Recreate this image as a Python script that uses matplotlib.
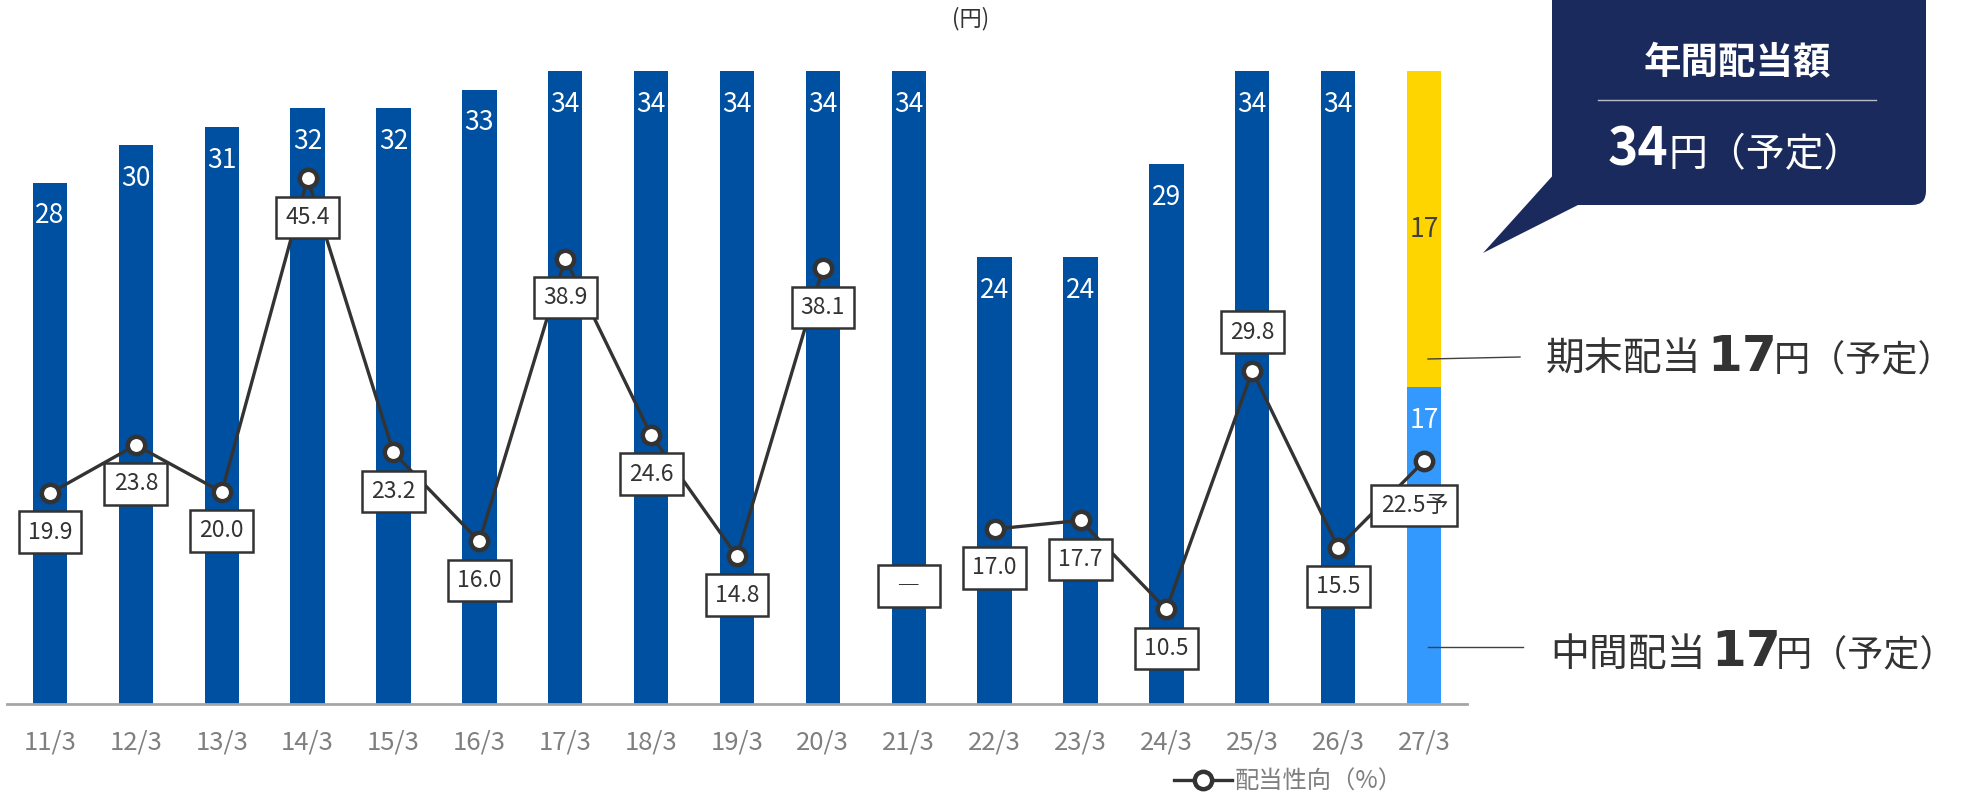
import matplotlib
matplotlib.use("Agg")
import matplotlib.pyplot as plt
import numpy as np
from matplotlib.patches import FancyBboxPatch, Polygon

plt.rcParams['font.family'] = ['Noto Sans CJK JP', 'DejaVu Sans']

# data
years = ["11/3", "12/3", "13/3", "14/3", "15/3", "16/3", "17/3", "18/3", "19/3",
         "20/3", "21/3", "22/3", "23/3", "24/3", "25/3", "26/3", "27/3"]
annual_dividend = [28, 30, 31, 32, 32, 33, 34, 34, 34, 34, 34, 24, 24, 29, 34, 34]
interim_plan = 17
year_end_plan = 17
payout_ratio = [19.9, 23.8, 20.0, 45.4, 23.2, 16.0, 38.9, 24.6, 14.8, 38.1, None,
                17.0, 17.7, 10.5, 29.8, 15.5, 22.5]

W, H = 1962, 796
navy = '#1b2a5c'
blue = '#0050a2'
light_blue = '#3399ff'
yellow = '#ffd500'
dark = '#333333'
grey = '#7f7f7f'

fig = plt.figure(figsize=(W / 100, H / 100), dpi=100)

def fx(px):
    return px / W

def fy(py):
    return 1 - py / H

ax = fig.add_axes([fx(7), fy(704), fx(1467) - fx(7), fy(30) - fy(704)])
ax2 = ax.twinx()

x = np.arange(len(years))
bw = 0.4

# past dividends
ax.bar(x[:-1], annual_dividend, width=bw, color=blue, zorder=1)
for i, v in enumerate(annual_dividend):
    ax.annotate(str(v), (i, v), xytext=(0, -24), textcoords='offset points',
                ha='center', va='center', color='white', fontsize=19)

# forecast: interim + year-end
last = x[-1]
ax.bar(last, interim_plan, width=bw, color=light_blue, zorder=1)
ax.bar(last, year_end_plan, width=bw, bottom=interim_plan, color=yellow, zorder=1)
ax.annotate(str(interim_plan), (last, interim_plan), xytext=(0, -24),
            textcoords='offset points', ha='center', va='center',
            color='white', fontsize=19)
ax.text(last, interim_plan + year_end_plan / 2, str(year_end_plan),
        ha='center', va='center', color='#404040', fontsize=19)

ax.set_xlim(-0.5, len(years) - 0.5)
ax.set_ylim(0, (704 - 30) / 18.62)
ax.set_xticks(x)
ax.set_xticklabels(years)
ax.tick_params(axis='x', length=0, pad=18, labelsize=18.5, labelcolor=grey)
ax.set_yticks([])
for s in ['top', 'left', 'right']:
    ax.spines[s].set_visible(False)
ax.spines['bottom'].set_color('#a6a6a6')
ax.spines['bottom'].set_linewidth(2)

# payout ratio line
ratio = np.array([np.nan if r is None else r for r in payout_ratio])
line, = ax2.plot(x, ratio, color=dark, lw=2.4, marker='o', ms=12.5,
                 mfc='white', mec=dark, mew=3.2, zorder=3)
ax2.set_ylim((739 - 704) / 12.35, (739 - 30) / 12.35)
ax2.set_yticks([])
for s in ax2.spines.values():
    s.set_visible(False)

box = dict(boxstyle='square,pad=0.4', fc='white', ec=dark, lw=1.8)
for i, r in enumerate(payout_ratio):
    if r is None:
        ax2.annotate('  ―  ', (i, 0.175), xycoords=('data', 'axes fraction'),
                     ha='center', va='center', fontsize=16.5, color=dark,
                     bbox=box, zorder=4)
        continue
    lbl = f"{r:.1f}"
    dx, dy = 0, -28
    if i == len(years) - 1:
        lbl += "予"
        dx, dy = -7, -32
    elif i == 14:
        dy = 28
    ax2.annotate(lbl, (i, r), xytext=(dx, dy), textcoords='offset points',
                 ha='center', va='center', fontsize=16.5, color=dark,
                 bbox=box, zorder=4)

ax2.legend([line], ['配当性向（%）'], loc='center',
           bbox_to_anchor=(fx(1288), fy(782)), bbox_transform=fig.transFigure,
           frameon=False, fontsize=17.5, labelcolor=grey,
           handlelength=2.4, handletextpad=0.1)

fig.text(fx(971), fy(19), '(円)', ha='center', va='center', fontsize=16, color=dark)

# overlay in pixel coordinates for the callout and side notes
ov = fig.add_axes([0, 0, 1, 1], zorder=5)
ov.set_xlim(0, W)
ov.set_ylim(H, 0)
ov.axis('off')
ov.patch.set_alpha(0)

ov.add_patch(FancyBboxPatch((1552, -20), 374, 225,
                            boxstyle='round,pad=0,rounding_size=14',
                            fc=navy, ec='none'))
ov.add_patch(Polygon([(1556, 172), (1483, 253), (1580, 204)], closed=True,
                     fc=navy, ec='none'))
ov.text(1737, 63, '年間配当額', ha='center', va='center', color='white',
        fontsize=27, fontweight='bold')
ov.plot([1598, 1876], [100, 100], color='#b8bccb', lw=1)
ov.text(1608, 166, str(interim_plan + year_end_plan), ha='left', va='baseline',
        color='white', fontsize=37, fontweight='bold')
ov.text(1668, 166, '円（予定）', ha='left', va='baseline', color='white', fontsize=28)

# side notes
ov.plot([1428, 1520], [359, 357], color='#404040', lw=1)
ov.plot([1428, 1523], [647, 647], color='#404040', lw=1)
for base, head, xs in [(371, '期末配当', (1546, 1707, 1774)),
                       (666, '中間配当', (1550, 1711, 1776))]:
    ov.text(xs[0], base, head, ha='left', va='baseline', color=dark, fontsize=28)
    ov.text(xs[1], base, '17', ha='left', va='baseline', color=dark,
            fontsize=36, fontweight='bold', family='DejaVu Sans')
    ov.text(xs[2], base, '円（予定）', ha='left', va='baseline', color=dark,
            fontsize=26)

fig.savefig('out.png', dpi=100)
